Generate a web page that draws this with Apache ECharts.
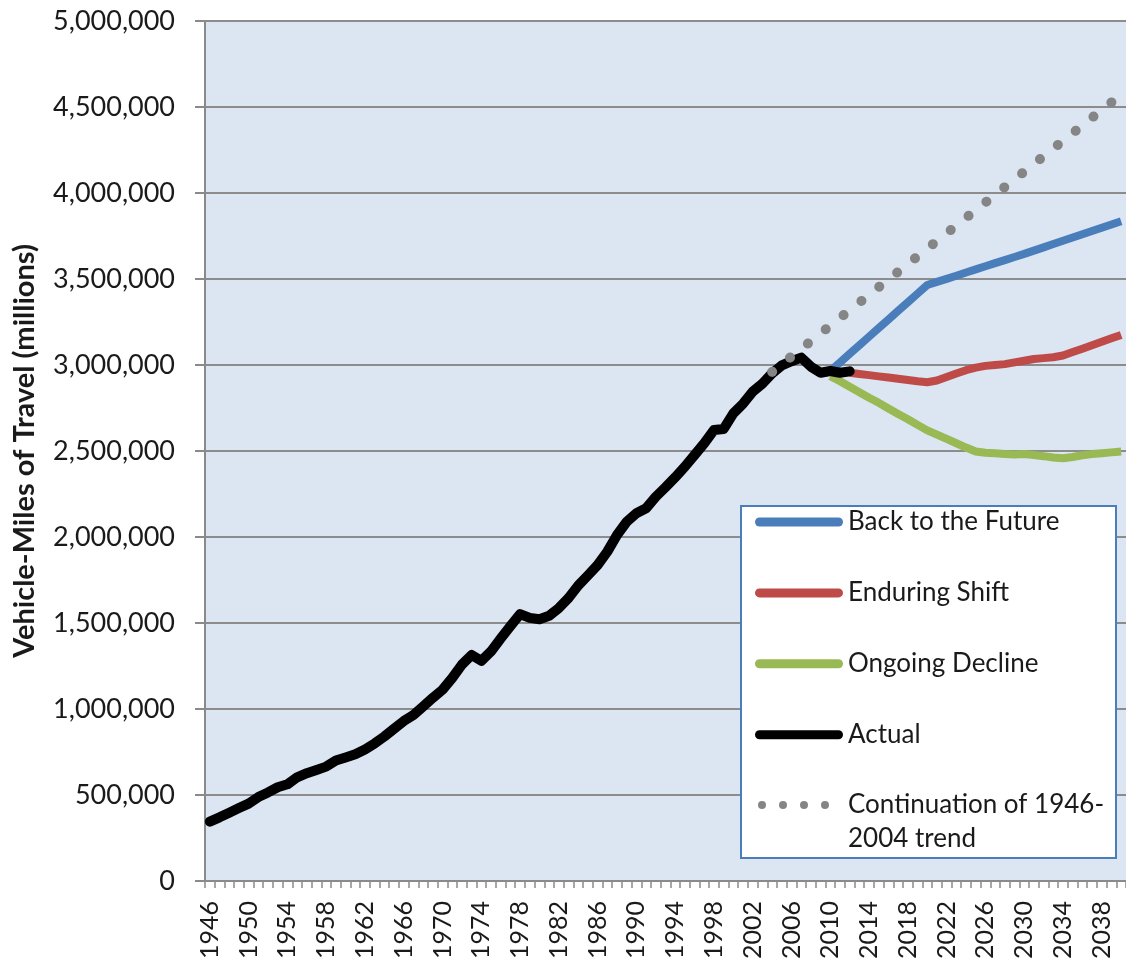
<!DOCTYPE html>
<html>
<head>
<meta charset="utf-8">
<script src="https://cdn.jsdelivr.net/npm/echarts@6/dist/echarts.min.js"></script>
<style>
html,body{margin:0;padding:0;background:#fff;}
#chart{width:1126px;height:964px;}
</style>
</head>
<body>
<div id="chart"></div>
<script>
// Categories (years)
var years = ['1946','1947','1948','1949','1950','1951','1952','1953','1954','1955',
'1956','1957','1958','1959','1960','1961','1962','1963','1964','1965',
'1966','1967','1968','1969','1970','1971','1972','1973','1974','1975',
'1976','1977','1978','1979','1980','1981','1982','1983','1984','1985',
'1986','1987','1988','1989','1990','1991','1992','1993','1994','1995',
'1996','1997','1998','1999','2000','2001','2002','2003','2004','2005',
'2006','2007','2008','2009','2010','2011','2012','2013','2014','2015',
'2016','2017','2018','2019','2020','2021','2022','2023','2024','2025',
'2026','2027','2028','2029','2030','2031','2032','2033','2034','2035',
'2036','2037','2038','2039','2040'];

// Actual VMT 1946-2012
var actualStart = '1946';
var actual = [345000,370000,397000,424000,450000,488000,515000,545000,562000,603000,
627000,646000,665000,700000,718000,737000,765000,800000,840000,885000,
930000,965000,1015000,1065000,1112000,1180000,1258000,1314000,1280000,1335000,
1410000,1482000,1552000,1530000,1522000,1542000,1587000,1645000,1718000,1777000,
1837000,1915000,2012000,2089000,2138000,2167000,2234000,2289000,2347000,2409000,
2477000,2545000,2622000,2628000,2719000,2775000,2845000,2892000,2952000,2998000,
3022000,3043000,2990000,2955000,2965000,2955000,2963000];

// Back to the Future 2010-2040
var backStart = '2010';
var backToFuture = [2965000,3015000,3065000,3115000,3165000,3215000,3265000,3315000,3365000,3415000,
3465000,3483000,3501000,3519000,3538000,3556000,3574000,3592000,3610000,3628000,
3646000,3665000,3684000,3703000,3722000,3741000,3760000,3779000,3798000,3817000,3836000];

// Enduring Shift 2012-2040
var shiftStart = '2012';
var enduringShift = [2955000,2948000,2941000,2934000,2927000,2920000,2913000,2906000,2900000,
2910000,2930000,2950000,2970000,2985000,2995000,3000000,3005000,3015000,3025000,
3035000,3040000,3045000,3055000,3075000,3095000,3115000,3135000,3155000,3175000];

// Ongoing Decline 2010-2040
var declineStart = '2010';
var ongoingDecline = [2935000,2905000,2873000,2842000,2810000,2780000,2747000,2715000,2685000,2652000,
2620000,2595000,2570000,2545000,2520000,2497000,2490000,2487000,2483000,2480000,
2482000,2477000,2470000,2462000,2458000,2465000,2475000,2482000,2487000,2492000,2497000];

// Continuation of 1946-2004 trend, 2004-2040
var trendStart = '2004';
var trend = [2960000,3005000,3050000,3094000,3139000,3184000,3229000,3274000,3318000,3363000,
3408000,3453000,3497000,3542000,3587000,3632000,3677000,3721000,3766000,3811000,
3856000,3900000,3945000,3990000,4035000,4080000,4124000,4169000,4214000,4259000,
4303000,4348000,4393000,4438000,4483000,4527000,4572000];

var seriesNames = ['Back to the Future','Enduring Shift','Ongoing Decline','Actual','Continuation of 1946-2004 trend'];
var seriesColors = ['#4a7ebb','#be4b48','#98b954','#000000','#858585'];

function pairs(start, vals){
  var s = years.indexOf(start);
  return vals.map(function(v,i){ return [years[s+i], v]; });
}

var FONT = 'Lato, "Open Sans", sans-serif';
var LINE_ICON = 'path://M4.5,0H83.5A4.5,4.5 0 0 1 83.5,9H4.5A4.5,4.5 0 0 1 4.5,0Z';
var DOT_ICON = 'path://M0,0M88,9' +
  'M3,4.5a4,4 0 1,0 8,0a4,4 0 1,0 -8,0' +
  'M24,4.5a4,4 0 1,0 8,0a4,4 0 1,0 -8,0' +
  'M45,4.5a4,4 0 1,0 8,0a4,4 0 1,0 -8,0' +
  'M66,4.5a4,4 0 1,0 8,0a4,4 0 1,0 -8,0';

function legendItem(i, icon){
  return {name:seriesNames[i], icon:icon, itemStyle:{color:seriesColors[i], borderWidth:0, opacity:1}};
}

var chart = echarts.init(document.getElementById('chart'), null, {renderer:'canvas'});
chart.setOption({
  animation:false,
  backgroundColor:'#ffffff',
  grid:{left:205, top:21, width:926, height:860, show:true, backgroundColor:'#dce6f2', borderWidth:0},
  xAxis:{
    type:'category', data:years, boundaryGap:true,
    axisLine:{show:true, lineStyle:{color:'#8a8a8a', width:2}},
    axisTick:{show:true, interval:0, length:7, lineStyle:{color:'#8a8a8a', width:1.5}},
    axisLabel:{interval:3, rotate:90, margin:20, fontSize:25, color:'#1a1a1a', fontFamily:FONT},
    splitLine:{show:false}
  },
  yAxis:{
    type:'value', min:0, max:5000000, interval:500000,
    name:'Vehicle-Miles of Travel (millions)', nameLocation:'middle', nameGap:166,
    nameTextStyle:{fontSize:29, fontWeight:'bold', color:'#1a1a1a', fontFamily:FONT},
    axisLine:{show:true, lineStyle:{color:'#8a8a8a', width:2}},
    axisTick:{show:true, length:10, lineStyle:{color:'#8a8a8a', width:2}},
    axisLabel:{margin:30, fontSize:27, color:'#1a1a1a', fontFamily:FONT,
      formatter:function(v){ return v.toString().replace(/\B(?=(\d{3})+(?!\d))/g, ','); }},
    splitLine:{show:true, lineStyle:{color:'#8c8c8c', width:2}}
  },
  graphic:[{type:'rect', left:740, top:505, z:3,
    shape:{width:375, height:352},
    style:{fill:'#ffffff', stroke:'#4a7ebb', lineWidth:2}}],
  legend:[{
    orient:'vertical', left:755, top:505, padding:0, itemGap:36.9,
    itemWidth:88, itemHeight:9,
    textStyle:{fontSize:26, color:'#1a1a1a', fontFamily:FONT, lineHeight:34},
    data:[legendItem(0,LINE_ICON),legendItem(1,LINE_ICON),legendItem(2,LINE_ICON),legendItem(3,LINE_ICON)]
  },{
    orient:'vertical', left:755, top:754, padding:0,
    itemWidth:88, itemHeight:9,
    textStyle:{fontSize:26, color:'#1a1a1a', fontFamily:FONT, lineHeight:34},
    formatter:function(){ return '\u00a0\nContinuation of 1946-\n2004 trend'; },
    data:[legendItem(4,DOT_ICON)]
  }],
  series:[
    {name:seriesNames[0], type:'line', data:pairs(backStart, backToFuture), symbol:'none',
      lineStyle:{color:seriesColors[0], width:8}, itemStyle:{color:seriesColors[0]}},
    {name:seriesNames[1], type:'line', data:pairs(shiftStart, enduringShift), symbol:'none',
      lineStyle:{color:seriesColors[1], width:8}, itemStyle:{color:seriesColors[1]}},
    {name:seriesNames[2], type:'line', data:pairs(declineStart, ongoingDecline), symbol:'none',
      lineStyle:{color:seriesColors[2], width:8}, itemStyle:{color:seriesColors[2]}},
    {name:seriesNames[3], type:'line', data:pairs(actualStart, actual), symbol:'none',
      lineStyle:{color:seriesColors[3], width:10, cap:'round', join:'round'}, itemStyle:{color:seriesColors[3]}},
    {name:seriesNames[4], type:'line', data:pairs(trendStart, trend), symbol:'none',
      lineStyle:{color:seriesColors[4], width:10, type:[0.1,22.7], cap:'round'}, itemStyle:{color:seriesColors[4]}}
  ]
});
</script>
</body>
</html>
